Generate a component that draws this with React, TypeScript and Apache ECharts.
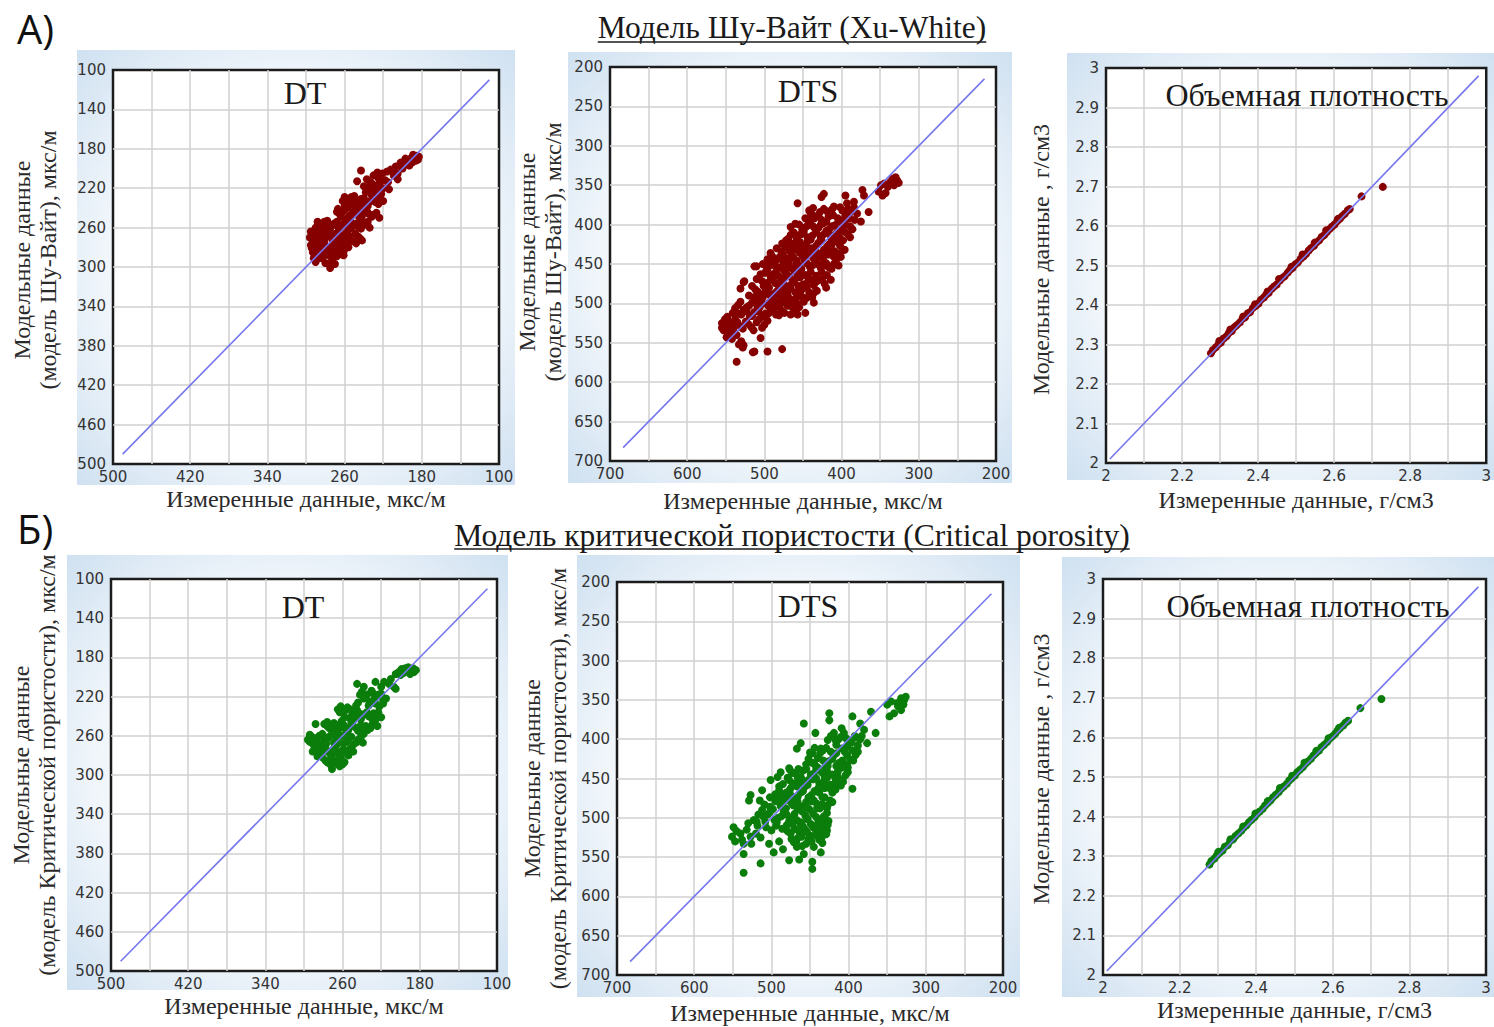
import React, { useEffect, useRef } from "react";
import * as echarts from "echarts";

// ---------------- texts ----------------
const HEAD_A = "А)";
const HEAD_B = "Б)";
const TITLE_XW = "Модель Шу-Вайт (Xu-White)";
const TITLE_CP = "Модель критической пористости (Critical porosity)";
const NAME_X_SLOW = "Измеренные данные, мкс/м";
const NAME_X_RHO = "Измеренные данные, г/см3";
const NAME_Y_XW = "Модельные данные\n(модель Шу-Вайт), мкс/м";
const NAME_Y_CP = "Модельные данные\n(модель Критической пористости), мкс/м";
const NAME_Y_RHO = "Модельные данные , г/см3";

// ---------------- ticks / labels ----------------
const dtGridTicks = [140, 180, 220, 260, 300, 340, 380, 420, 460];
const dtXLabels = [100, 180, 260, 340, 420, 500];
const dtYLabels = [100, 140, 180, 220, 260, 300, 340, 380, 420, 460, 500];
const dtsGridTicks = [250, 300, 350, 400, 450, 500, 550, 600, 650];
const dtsXLabels = [200, 300, 400, 500, 600, 700];
const dtsYLabels = [200, 250, 300, 350, 400, 450, 500, 550, 600, 650, 700];
const rhoGridTicks = [2.1, 2.2, 2.3, 2.4, 2.5, 2.6, 2.7, 2.8, 2.9];
const rhoXLabels = [2, 2.2, 2.4, 2.6, 2.8, 3];
const rhoYLabels = [2, 2.1, 2.2, 2.3, 2.4, 2.5, 2.6, 2.7, 2.8, 2.9, 3];

// 1:1 reference lines
const dtDiag = [[490, 490], [110, 110]];
const dtsDiag = [[683, 683], [215, 215]];
const rhoDiag = [[2.01, 2.01], [2.98, 2.98]];

// ---------------- data: [measured, model] ----------------
const xwDT = [
  [183, 188], [185, 187], [188, 189], [186, 192], [190, 194], [192, 190], [195, 193], [198, 196], [202, 194], [207, 198], [184, 191], [189, 186],
  [243, 202], [226, 204], [221, 205], [216, 203], [205, 211], [212, 201], [214, 221], [224, 250], [247, 213], [209, 207], [218, 212], [230, 207],
  [233, 214], [228, 218], [224, 215], [220, 220], [230, 222], [235, 219], [226, 226], [238, 224], [222, 226], [232, 227], [240, 218],
  [260, 229], [255, 231], [250, 228], [245, 233], [240, 230], [235, 234], [230, 231], [225, 236], [220, 233], [252, 236], [242, 237], [257, 235], [248, 232],
  [267, 241], [262, 244], [257, 240], [252, 246], [247, 242], [242, 248], [237, 243], [232, 249], [227, 245], [264, 249], [254, 251], [244, 251], [260, 238], [236, 238],
  [288, 254], [283, 257], [278, 253], [273, 258], [268, 254], [263, 259], [258, 255], [253, 260], [248, 256], [243, 261], [238, 257], [234, 260], [285, 261], [275, 261],
  [295, 264], [291, 268], [286, 265], [281, 270], [276, 266], [271, 272], [266, 267], [261, 273], [256, 268], [251, 274], [246, 269], [242, 273], [293, 273], [287, 275], [279, 263], [264, 275],
  [295, 278], [291, 282], [286, 279], [281, 284], [276, 280], [271, 285], [266, 279], [261, 284], [256, 280], [293, 285], [284, 277],
  [288, 288], [283, 291], [278, 287], [273, 292], [268, 289], [264, 287], [292, 291],
  [275, 301], [273, 295], [270, 297], [280, 296], [290, 295], [261, 288],
  [231, 216], [226, 220], [236, 222], [229, 224], [223, 223],
  [258, 233], [253, 229], [247, 236], [243, 231], [238, 236], [233, 233], [228, 234], [223, 231], [250, 234], [262, 233],
  [265, 246], [260, 242], [255, 248], [250, 243], [245, 249], [240, 245], [235, 246], [230, 247], [258, 251], [268, 244], [249, 239], [239, 240],
  [286, 257], [281, 254], [276, 259], [271, 256], [266, 261], [261, 256], [256, 262], [251, 257], [246, 259], [241, 254], [290, 260], [280, 261], [236, 254],
  [293, 267], [289, 264], [284, 269], [279, 266], [274, 270], [269, 266], [264, 271], [259, 266], [254, 272], [249, 266], [244, 271], [289, 271], [281, 274], [272, 275], [258, 276], [296, 270], [248, 276],
  [294, 281], [289, 278], [284, 283], [279, 279], [274, 284], [269, 281], [264, 283], [259, 279], [290, 287], [281, 288], [275, 289], [270, 286], [286, 291],
  [237, 211], [225, 210], [215, 214], [210, 203], [205, 205], [200, 200], [197, 190], [193, 197],
];

const xwDTS = [
  [330, 340], [337, 346], [345, 348], [349, 350], [332, 350], [343, 360], [347, 363], [328, 344], [334, 342], [340, 352], [326, 347], [352, 358],
  [373, 356], [371, 363], [395, 363], [423, 361], [426, 365], [457, 373], [365, 384], [375, 396], [384, 371], [393, 373],
  [442, 382], [440, 386], [423, 380], [410, 377], [399, 382], [388, 384], [380, 386], [430, 388], [417, 390], [405, 392], [395, 388], [435, 392],
  [455, 400], [448, 404], [441, 398], [434, 406], [427, 400], [420, 408], [413, 402], [406, 410], [399, 404], [392, 412], [386, 406], [452, 412], [438, 414], [424, 413], [410, 414], [466, 403], [466, 413],
  [472, 420], [465, 424], [458, 418], [451, 428], [444, 421], [437, 430], [430, 423], [423, 432], [416, 425], [409, 434], [402, 427], [396, 432], [468, 433], [455, 435], [440, 436], [426, 436], [412, 420], [399, 433], [492, 436],
  [490, 440], [483, 444], [476, 438], [469, 448], [462, 442], [455, 452], [448, 445], [441, 454], [434, 447], [427, 455], [420, 449], [413, 456], [407, 445], [486, 452], [472, 456], [458, 457], [444, 438], [430, 440], [513, 453], [494, 449], [510, 453], [497, 451],
  [499, 461], [492, 466], [485, 460], [478, 470], [471, 463], [464, 474], [457, 466], [450, 476], [443, 468], [436, 477], [429, 470], [422, 475], [496, 474], [482, 477], [468, 478], [526, 472], [527, 473], [531, 481], [453, 461],
  [512, 482], [505, 488], [498, 483], [491, 492], [484, 485], [477, 495], [470, 488], [463, 497], [456, 490], [449, 498], [442, 486], [508, 496], [494, 499], [480, 499], [436, 487], [436, 499],
  [534, 502], [527, 508], [520, 503], [513, 511], [506, 505], [499, 513], [492, 507], [485, 514], [478, 509], [470, 503], [462, 508], [455, 505], [530, 514], [516, 516], [457, 514], [447, 512], [548, 517],
  [551, 520], [545, 525], [538, 520], [531, 529], [524, 523], [517, 530], [510, 524], [503, 531], [496, 522], [549, 530], [553, 534], [540, 532],
  [548, 537], [542, 545], [536, 540], [530, 548], [527, 553], [549, 543], [533, 552], [505, 544],
  [528, 556], [513, 561], [496, 561], [477, 558], [536, 574], [515, 562],
  [437, 379], [428, 384], [419, 383], [412, 380], [402, 378], [392, 380], [384, 378],
  [447, 392], [443, 395], [436, 389], [426, 394], [420, 396], [411, 388], [404, 396], [398, 394], [390, 392], [383, 394],
  [460, 399], [451, 407], [445, 402], [437, 402], [430, 404], [423, 398], [416, 406], [409, 401], [402, 407], [395, 400], [389, 402],
  [462, 410], [457, 414], [449, 409], [444, 416], [433, 410], [427, 416], [416, 412], [413, 418], [403, 416], [396, 409], [389, 416],
  [477, 424], [469, 418], [462, 426], [454, 422], [447, 426], [440, 419], [433, 427], [426, 420], [419, 428], [413, 426], [405, 422], [398, 420],
  [484, 430], [478, 434], [473, 428], [462, 432], [457, 429], [448, 435], [441, 430], [434, 434], [419, 436], [415, 431], [406, 437], [401, 441],
  [496, 444], [488, 446], [480, 441], [472, 443], [465, 438], [458, 446], [451, 440], [437, 442], [424, 444], [417, 438], [410, 441], [404, 452],
  [502, 450], [496, 456], [490, 451], [479, 454], [475, 447], [465, 455], [459, 449], [452, 456], [445, 449], [438, 452], [431, 450], [424, 452], [417, 454], [410, 450],
  [505, 463], [497, 458], [489, 463], [482, 465], [475, 458], [467, 466], [461, 459], [454, 467], [447, 464], [440, 460], [433, 465], [426, 460], [419, 464], [414, 470],
  [510, 469], [503, 472], [490, 470], [486, 474], [475, 476], [474, 467], [461, 471], [456, 478], [446, 475], [440, 470], [432, 472], [425, 469], [420, 480],
  [516, 478], [509, 485], [501, 478], [494, 480], [488, 488], [481, 482], [474, 485], [466, 481], [460, 486], [452, 483], [445, 480], [438, 492], [432, 484],
  [520, 490], [513, 492], [502, 492], [495, 488], [487, 496], [481, 489], [473, 492], [467, 494], [459, 494], [452, 491], [445, 493],
  [538, 506], [531, 498], [523, 505], [516, 499], [509, 504], [502, 500], [495, 503], [488, 501], [481, 504], [474, 499], [466, 503], [458, 500],
  [541, 512], [534, 513], [523, 510], [519, 516], [508, 510], [503, 517], [495, 513], [488, 509], [481, 515], [474, 512], [466, 514],
  [555, 525], [548, 522], [542, 529], [535, 524], [528, 532], [521, 526], [514, 534], [507, 520], [500, 527], [543, 537], [555, 531],
];

const xwRHO = [
  [2.276, 2.278], [2.281, 2.286], [2.289, 2.293], [2.296, 2.301], [2.302, 2.305], [2.309, 2.315], [2.317, 2.321], [2.323, 2.329], [2.331, 2.334], [2.338, 2.344],
  [2.344, 2.349], [2.352, 2.356], [2.359, 2.365], [2.366, 2.369], [2.373, 2.379], [2.379, 2.382], [2.386, 2.392], [2.394, 2.398], [2.401, 2.404], [2.407, 2.413],
  [2.415, 2.419], [2.421, 2.426], [2.428, 2.431], [2.436, 2.441], [2.442, 2.447], [2.449, 2.452], [2.457, 2.462], [2.463, 2.468], [2.47, 2.473], [2.478, 2.482],
  [2.484, 2.489], [2.491, 2.494], [2.498, 2.503], [2.505, 2.508], [2.512, 2.517], [2.519, 2.523], [2.526, 2.529], [2.533, 2.538], [2.539, 2.544], [2.547, 2.55],
  [2.553, 2.558], [2.561, 2.564], [2.567, 2.572], [2.574, 2.577], [2.581, 2.585], [2.588, 2.592], [2.594, 2.598], [2.601, 2.604], [2.608, 2.612], [2.615, 2.618],
  [2.621, 2.625], [2.628, 2.631], [2.636, 2.64], [2.641, 2.643], [2.672, 2.675], [2.728, 2.699],
  [2.298, 2.309], [2.327, 2.338], [2.361, 2.371], [2.392, 2.402], [2.425, 2.434], [2.455, 2.466], [2.488, 2.497], [2.517, 2.528], [2.549, 2.558], [2.579, 2.589], [2.61, 2.618],
];

const cpDT = [
  [187, 191], [189, 193], [192, 190], [186, 195], [194, 194], [197, 196], [202, 195], [205, 197], [199, 192], [190, 197], [184, 193],
  [245, 207], [226, 205], [217, 205], [210, 202], [207, 210], [205, 212],
  [240, 215], [235, 218], [230, 214], [225, 220], [220, 217], [215, 222], [232, 225], [226, 227], [238, 222], [244, 226], [218, 227],
  [265, 233], [260, 236], [255, 231], [250, 238], [245, 234], [240, 240], [235, 236], [230, 242], [225, 238], [220, 241], [258, 241], [248, 242], [262, 230],
  [279, 248], [274, 252], [269, 247], [264, 253], [259, 249], [254, 254], [249, 250], [244, 255], [239, 251], [234, 254], [229, 248], [226, 244], [271, 255], [261, 245],
  [294, 259], [289, 263], [284, 260], [279, 265], [274, 261], [269, 267], [264, 262], [259, 268], [254, 263], [249, 269], [244, 264], [239, 267], [291, 268], [282, 269], [296, 264],
  [289, 272], [284, 276], [279, 271], [274, 277], [269, 273], [264, 279], [259, 274], [254, 280], [249, 276], [286, 281], [262, 282],
  [278, 285], [273, 289], [268, 286], [263, 291], [258, 287],
  [226, 239], [224, 250], [238, 258], [255, 278], [260, 289], [288, 248], [271, 294],
  [242, 218], [237, 221], [228, 217], [223, 218], [218, 224], [233, 229], [228, 224], [246, 229], [222, 230],
  [263, 236], [257, 234], [252, 233], [247, 240], [243, 237], [238, 238], [233, 240], [228, 237], [223, 236], [253, 242], [241, 243],
  [276, 250], [271, 253], [266, 249], [261, 251], [256, 252], [251, 247], [246, 252], [241, 249], [236, 250], [231, 252], [266, 256], [256, 256], [276, 246],
  [292, 261], [286, 262], [281, 258], [276, 263], [271, 259], [266, 264], [261, 260], [256, 266], [251, 261], [246, 267], [241, 261], [287, 267], [277, 268], [294, 266], [266, 269],
  [287, 274], [282, 279], [277, 274], [272, 280], [267, 276], [262, 276], [257, 277], [252, 273], [281, 282], [271, 283], [291, 276],
  [276, 287], [266, 288], [271, 291], [261, 285],
  [200, 198], [195, 191], [212, 207], [220, 210], [238, 210],
];

const cpDTS = [
  [332, 348], [328, 350], [337, 354], [345, 352], [332, 363], [347, 371], [341, 367], [326, 346], [336, 358], [350, 356], [329, 356],
  [371, 365], [365, 392], [376, 405], [425, 367], [425, 376], [458, 380], [395, 371], [443, 392], [419, 392], [462, 405], [467, 412], [477, 437], [488, 442], [492, 448], [512, 465], [501, 452], [527, 471], [529, 478], [385, 380], [380, 388],
  [420, 395], [413, 400], [406, 392], [399, 403], [392, 396], [385, 400], [416, 407], [402, 409], [388, 408], [409, 386],
  [447, 418], [440, 424], [433, 414], [426, 428], [419, 420], [412, 430], [405, 416], [398, 426], [391, 420], [444, 432], [430, 435], [416, 434], [402, 433], [436, 412],
  [473, 443], [466, 448], [459, 440], [452, 452], [445, 444], [438, 456], [431, 448], [424, 458], [417, 450], [410, 459], [404, 446], [470, 456], [456, 460], [442, 438], [428, 440], [414, 441], [463, 455],
  [490, 465], [483, 470], [476, 464], [469, 476], [462, 468], [455, 480], [448, 471], [441, 482], [434, 474], [427, 484], [421, 468], [486, 480], [472, 484], [458, 485], [444, 466], [431, 462], [479, 477],
  [512, 490], [505, 496], [498, 489], [491, 500], [484, 492], [477, 504], [470, 495], [463, 506], [456, 497], [449, 508], [442, 499], [435, 510], [428, 494], [508, 505], [494, 510], [480, 509], [466, 489], [451, 489], [437, 488],
  [470, 514], [463, 520], [456, 515], [449, 523], [442, 517], [435, 525], [428, 516], [466, 526], [452, 527], [438, 528], [459, 511],
  [395, 463], [423, 480], [430, 503], [436, 518], [436, 544],
  [549, 512], [551, 524], [540, 520], [536, 533], [527, 524], [523, 503], [545, 517], [532, 515], [518, 510], [547, 530], [530, 507], [538, 528], [526, 533], [520, 520], [514, 525],
  [536, 546], [536, 570], [514, 558], [503, 533], [497, 544], [477, 554], [464, 553], [458, 546], [447, 565], [471, 531], [467, 537], [485, 540], [490, 530], [447, 556],
  [423, 396], [417, 401], [410, 397], [403, 399], [396, 404], [389, 398], [383, 396], [427, 401],
  [450, 417], [444, 411], [437, 418], [429, 411], [423, 416], [416, 418], [409, 412], [402, 420], [395, 414], [388, 416],
  [452, 425], [447, 430], [440, 436], [433, 427], [427, 434], [421, 425], [414, 432], [408, 427], [401, 436], [394, 427], [455, 432], [408, 436],
  [476, 439], [469, 443], [462, 448], [455, 438], [449, 445], [442, 450], [435, 442], [428, 449], [421, 445], [414, 448], [407, 454], [401, 442], [479, 449], [465, 438],
  [485, 457], [477, 452], [467, 460], [460, 452], [453, 458], [446, 451], [439, 462], [432, 454], [425, 462], [418, 456], [411, 452], [490, 460], [474, 461],
  [495, 470], [488, 474], [481, 468], [474, 472], [466, 474], [459, 466], [452, 474], [445, 478], [438, 468], [431, 474], [424, 478], [417, 464], [502, 474],
  [509, 483], [502, 486], [495, 479], [488, 485], [481, 488], [474, 481], [466, 480], [462, 487], [455, 486], [448, 479], [441, 488], [434, 483], [428, 488], [421, 480], [515, 478],
  [517, 496], [510, 499], [502, 493], [496, 503], [487, 498], [480, 496], [473, 500], [467, 503], [460, 492], [453, 502], [446, 495], [439, 503], [432, 498], [426, 504], [519, 505],
  [507, 512], [500, 516], [493, 506], [486, 514], [479, 517], [473, 508], [467, 515], [461, 506], [454, 518], [446, 512], [440, 508], [433, 514], [427, 509], [475, 520],
  [468, 531], [461, 524], [455, 533], [448, 530], [441, 523], [434, 532], [429, 521], [474, 527], [460, 536], [445, 537],
];

const cpRHO = [
  [2.278, 2.279], [2.283, 2.288], [2.291, 2.294], [2.297, 2.302], [2.304, 2.308], [2.312, 2.314], [2.318, 2.324], [2.326, 2.328], [2.332, 2.338], [2.34, 2.343],
  [2.346, 2.351], [2.353, 2.357], [2.361, 2.364], [2.367, 2.372], [2.375, 2.378], [2.381, 2.386], [2.388, 2.392], [2.396, 2.399], [2.402, 2.407], [2.409, 2.413],
  [2.417, 2.42], [2.423, 2.428], [2.43, 2.434], [2.438, 2.441], [2.444, 2.449], [2.451, 2.455], [2.459, 2.462], [2.465, 2.47], [2.472, 2.476], [2.48, 2.483],
  [2.486, 2.491], [2.493, 2.497], [2.501, 2.504], [2.507, 2.512], [2.514, 2.518], [2.522, 2.525], [2.528, 2.533], [2.535, 2.539], [2.543, 2.546], [2.549, 2.554],
  [2.556, 2.56], [2.564, 2.567], [2.57, 2.575], [2.577, 2.581], [2.585, 2.588], [2.591, 2.596], [2.598, 2.602], [2.606, 2.609], [2.612, 2.617], [2.619, 2.623],
  [2.627, 2.63], [2.633, 2.637], [2.64, 2.642], [2.672, 2.674], [2.727, 2.697],
  [2.301, 2.311], [2.333, 2.343], [2.366, 2.375], [2.398, 2.408], [2.43, 2.439], [2.462, 2.472], [2.494, 2.503], [2.526, 2.536], [2.557, 2.566], [2.589, 2.598], [2.616, 2.624],
];

// ---------------- styling ----------------
const RED = "#870000";
const GREEN = "#0a7d0a";
const BLUE = "#7676ee";
const SERIF = "'Liberation Serif', 'Times New Roman', serif";
const SANS = "'DejaVu Sans', Verdana, sans-serif";
const HEAD_FONT = "'Open Sans', 'Noto Sans', sans-serif";

const KINDS: any = {
  dt: { min: 100, max: 500, inverse: true, ticks: dtGridTicks, xl: dtXLabels, yl: dtYLabels, diag: dtDiag, sym: 8 },
  dts: { min: 200, max: 700, inverse: true, ticks: dtsGridTicks, xl: dtsXLabels, yl: dtsYLabels, diag: dtsDiag, sym: 8 },
  rho: { min: 2, max: 3, inverse: false, ticks: rhoGridTicks, xl: rhoXLabels, yl: rhoYLabels, diag: rhoDiag, sym: 8 },
};

const PANELS: any[] = [
  { kind: "dt", grid: { left: 113, top: 70, width: 386, height: 394 }, bg: [77, 50, 438, 435], title: "DT", tx: 305, ty: 93, data: xwDT, color: RED, xName: NAME_X_SLOW, yName: NAME_Y_XW, xGap: 22, yGap: 52, yUp: 14 },
  { kind: "dts", grid: { left: 610, top: 67, width: 386, height: 394 }, bg: [568, 52, 444, 431], title: "DTS", tx: 808, ty: 91, data: xwDTS, color: RED, xName: NAME_X_SLOW, yName: NAME_Y_XW, xGap: 27, yGap: 44, yUp: 24 },
  { kind: "rho", grid: { left: 1106, top: 68, width: 385, height: 395 }, bg: [1067, 53, 427, 427], title: "Объемная плотность", tx: 1307, ty: 95, data: xwRHO, color: RED, xName: NAME_X_RHO, yName: NAME_Y_RHO, xGap: 24, yGap: 52, yUp: 12 },
  { kind: "dt", grid: { left: 111, top: 579, width: 386, height: 392 }, bg: [67, 555, 441, 435], title: "DT", tx: 303, ty: 607, data: cpDT, color: GREEN, xName: NAME_X_SLOW, yName: NAME_Y_CP, xGap: 22, yGap: 51, yUp: 20 },
  { kind: "dts", grid: { left: 617, top: 582, width: 386, height: 394 }, bg: [577, 555, 443, 442], title: "DTS", tx: 808, ty: 606, data: cpDTS, color: GREEN, xName: NAME_X_SLOW, yName: NAME_Y_CP, xGap: 25, yGap: 46, yUp: 0 },
  { kind: "rho", grid: { left: 1103, top: 579, width: 383, height: 396 }, bg: [1062, 557, 432, 440], title: "Объемная плотность", tx: 1308, ty: 606, data: cpRHO, color: GREEN, xName: NAME_X_RHO, yName: NAME_Y_RHO, xGap: 22, yGap: 49, yUp: 16 },
];

const fmt = (v: number) => String(Math.round(v * 100) / 100);

function measure(text: string, font: string) {
  const ctx = document.createElement("canvas").getContext("2d");
  if (!ctx) return text.length * 15;
  ctx.font = font;
  return ctx.measureText(text).width;
}

export default function App() {
  const ref = useRef<HTMLDivElement>(null);

  useEffect(() => {
    if (!ref.current) return;
    const chart = echarts.init(ref.current, undefined, { renderer: "svg" });

    const labelStyle = { fontFamily: SANS, fontSize: 15, color: "#333333" };
    const nameStyle = { fontFamily: SERIF, fontSize: 24, color: "#2a2a2a", lineHeight: 26 };

    const grids = PANELS.map((p) => ({
      ...p.grid,
      show: true,
      backgroundColor: "#ffffff",
      borderColor: "#1c1c1c",
      borderWidth: 2.5,
    }));

    const splitLine = { show: true, lineStyle: { color: "#d0d0d0", width: 1.5 } };

    const xAxes = PANELS.map((p, i) => {
      const k = KINDS[p.kind];
      return {
        gridIndex: i, type: "value", min: k.min, max: k.max, inverse: k.inverse,
        axisLine: { show: false },
        axisTick: { show: false, customValues: k.ticks },
        splitLine,
        axisLabel: { ...labelStyle, margin: 5, customValues: k.xl, formatter: fmt },
        name: p.xName, nameLocation: "middle", nameGap: p.xGap, nameTextStyle: nameStyle,
      };
    });

    const yAxes = PANELS.map((p, i) => {
      const k = KINDS[p.kind];
      return {
        gridIndex: i, type: "value", min: k.min, max: k.max, inverse: k.inverse,
        axisLine: { show: false },
        axisTick: { show: false, customValues: k.ticks },
        splitLine,
        axisLabel: { ...labelStyle, margin: 7, customValues: k.yl, formatter: fmt },
        name: p.yName, nameLocation: "middle", nameRotate: 90, nameGap: p.yGap,
        nameTextStyle: { ...nameStyle, padding: [0, 0, 0, p.yUp] },
      };
    });

    const series: any[] = [];
    PANELS.forEach((p, i) => {
      series.push({
        type: "scatter", xAxisIndex: i, yAxisIndex: i, data: p.data,
        symbolSize: KINDS[p.kind].sym, itemStyle: { color: p.color, opacity: 1 }, z: 2, silent: true,
      });
      series.push({
        type: "line", xAxisIndex: i, yAxisIndex: i, data: KINDS[p.kind].diag,
        symbol: "none", lineStyle: { color: BLUE, width: 1.6 }, z: 3, silent: true,
      });
    });

    const graphic: any[] = [];
    PANELS.forEach((p) => {
      const [x, y, w, h] = p.bg;
      graphic.push({
        type: "rect", z: -5, silent: true,
        shape: { x, y, width: w, height: h },
        style: {
          fill: new echarts.graphic.RadialGradient(0.5, 0.5, 0.78, [
            { offset: 0, color: "#ffffff" },
            { offset: 0.55, color: "#f1f6fb" },
            { offset: 1, color: "#c6dbee" },
          ]),
        },
      });
      graphic.push({
        type: "text", z: 20, silent: true, x: p.tx, y: p.ty,
        style: { text: p.title, fontFamily: SERIF, fontSize: 32, fill: "#1a1a1a", align: "center", verticalAlign: "middle" },
      });
    });

    const TITLE_SIZE = 31.5;
    const mainTitles = [
      { text: TITLE_XW, cx: 792, cy: 27, uy: 42 },
      { text: TITLE_CP, cx: 792, cy: 535, uy: 549 },
    ];
    mainTitles.forEach((t) => {
      const w = measure(t.text, `${TITLE_SIZE}px ${SERIF}`);
      graphic.push({
        type: "text", z: 20, silent: true, x: t.cx, y: t.cy,
        style: { text: t.text, fontFamily: SERIF, fontSize: TITLE_SIZE, fill: "#1a1a1a", align: "center", verticalAlign: "middle" },
      });
      graphic.push({
        type: "line", z: 20, silent: true,
        shape: { x1: t.cx - w / 2, y1: t.uy, x2: t.cx + w / 2, y2: t.uy },
        style: { stroke: "#1a1a1a", lineWidth: 1.5 },
      });
    });

    [{ text: HEAD_A, y: 28 }, { text: HEAD_B, y: 528 }].forEach((h) => {
      graphic.push({
        type: "text", z: 20, silent: true, x: 17, y: h.y,
        style: { text: h.text, fontFamily: HEAD_FONT, fontSize: 40, fill: "#111", align: "left", verticalAlign: "middle" },
      });
    });

    chart.setOption({
      animation: false,
      backgroundColor: "#ffffff",
      grid: grids,
      xAxis: xAxes,
      yAxis: yAxes,
      series,
      graphic,
    });

    return () => chart.dispose();
  }, []);

  return (
    <div
      ref={ref}
      style={{ position: "absolute", left: 0, top: 0, width: 1494, height: 1027, background: "#fff" }}
    />
  );
}
